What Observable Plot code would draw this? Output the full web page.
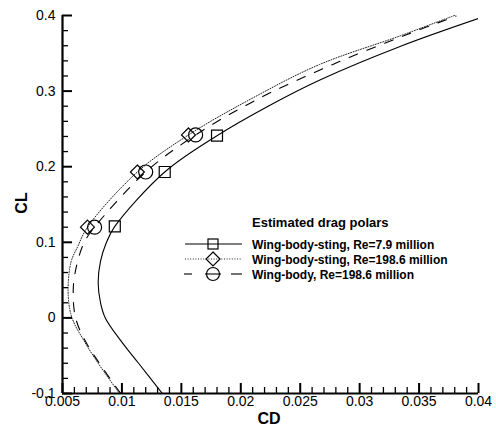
<!DOCTYPE html>
<html><head><meta charset="utf-8">
<script src="https://cdn.jsdelivr.net/npm/d3@7"></script>
<script src="https://cdn.jsdelivr.net/npm/@observablehq/plot@0.6"></script>
<style>
html,body{margin:0;padding:0;background:#fff;}
#chart{position:relative;width:496px;height:431px;}
</style></head><body><div id="chart"></div>
<script>
// Series names (legend)
const legendTitle = "Estimated drag polars";
const seriesNames = ["Wing-body-sting, Re=7.9 million", "Wing-body-sting, Re=198.6 million", "Wing-body, Re=198.6 million"];

// Curve 1: Wing-body-sting, Re=7.9 million (solid)
const s1CL = [-0.1, -0.06, -0.03, 0.0, 0.02, 0.047, 0.075, 0.1, 0.121, 0.193, 0.241, 0.28, 0.315, 0.359, 0.396];
const s1CD = [0.0134, 0.0114, 0.0099, 0.0086, 0.0082, 0.0080, 0.0082, 0.0087, 0.0094, 0.0136, 0.0180, 0.0223, 0.0267, 0.0334, 0.0400];
// Curve 2: Wing-body-sting, Re=198.6 million (dotted)
const s2CL = [-0.1, -0.06, -0.03, 0.0, 0.03, 0.073, 0.095, 0.12, 0.193, 0.242, 0.29, 0.335, 0.373, 0.402];
const s2CD = [0.0098, 0.0080, 0.0068, 0.0058, 0.00548, 0.0057, 0.0063, 0.0071, 0.0113, 0.0156, 0.0209, 0.0266, 0.0334, 0.0383];
// Curve 3: Wing-body, Re=198.6 million (dashed)
const s3CL = [-0.1, -0.06, -0.03, 0.0, 0.035, 0.063, 0.099, 0.12, 0.193, 0.242, 0.29, 0.335, 0.375, 0.399];
const s3CD = [0.0099, 0.0081, 0.0069, 0.0061, 0.0059, 0.0061, 0.0068, 0.0077, 0.0120, 0.0162, 0.0215, 0.0277, 0.0340, 0.0381];

// Marker points
const m1CL = [0.121, 0.193, 0.241];
const m1CD = [0.0094, 0.0136, 0.0180];
const m2CL = [0.12, 0.193, 0.242];
const m2CD = [0.0071, 0.0113, 0.0156];
const m3CL = [0.12, 0.193, 0.242];
const m3CD = [0.0077, 0.0120, 0.0162];

// Ticks
const xTicks = [0.005, 0.01, 0.015, 0.02, 0.025, 0.03, 0.035, 0.04];
const xTickLabels = ["0.005", "0.01", "0.015", "0.02", "0.025", "0.03", "0.035", "0.04"];
const yTicks = [-0.1, 0, 0.1, 0.2, 0.3, 0.4];
const yTickLabels = ["-0.1", "0", "0.1", "0.2", "0.3", "0.4"];
const xMinor = d3.range(5, 41).filter(i => i % 5 !== 0).map(i => i / 1000);
const yMinor = d3.range(-5, 21).filter(i => i % 5 !== 0).map(i => i / 50);

const W = 496, H = 431, mL = 62, mR = 18, mT = 15, mB = 38;
const xDom = [0.005, 0.04], yDom = [-0.1, 0.4];
// data units per pixel, used only to give the inward ticks a fixed pixel length
const xPerPx = (xDom[1] - xDom[0]) / (W - mL - mR);
const yPerPx = (yDom[1] - yDom[0]) / (H - mT - mB);

const rows = (cd, cl) => cd.map((x, i) => ({CD: x, CL: cl[i]}));

const plot = Plot.plot({
  width: W, height: H,
  marginLeft: mL, marginRight: mR, marginTop: mT, marginBottom: mB,
  style: {fontFamily: "'Liberation Sans', Arial, sans-serif", fontSize: "14px", background: "#fff"},
  x: {domain: xDom, label: null},
  y: {domain: yDom, label: null},
  marks: [
    Plot.line(rows(s1CD, s1CL), {x: "CD", y: "CL", curve: "catmull-rom", stroke: "#000", strokeWidth: 1.1, clip: true}),
    Plot.line(rows(s2CD, s2CL), {x: "CD", y: "CL", curve: "catmull-rom", stroke: "#222", strokeWidth: 1, strokeDasharray: "1,1.6", clip: true}),
    Plot.line(rows(s3CD, s3CL), {x: "CD", y: "CL", curve: "catmull-rom", stroke: "#000", strokeWidth: 1.1, strokeDasharray: "9,10", clip: true}),
    Plot.dot(rows(m1CD, m1CL), {x: "CD", y: "CL", symbol: "square", r: 6.2, stroke: "#000", fill: "none", strokeWidth: 1.2}),
    Plot.dot(rows(m2CD, m2CL), {x: "CD", y: "CL", symbol: "diamond2", r: 6.3, stroke: "#000", fill: "none", strokeWidth: 1.2}),
    Plot.dot(rows(m3CD, m3CL), {x: "CD", y: "CL", symbol: "circle", r: 7, stroke: "#000", fill: "none", strokeWidth: 1.2}),
    // axis lines
    Plot.ruleY([yDom[0]], {stroke: "#000", strokeWidth: 2.2}),
    Plot.ruleX([xDom[0]], {stroke: "#000", strokeWidth: 2.2}),
    // inward ticks
    Plot.ruleX(xTicks, {x: d => d, y1: yDom[0], y2: yDom[0] + 10 * yPerPx, stroke: "#000", strokeWidth: 2}),
    Plot.ruleX(xMinor, {x: d => d, y1: yDom[0], y2: yDom[0] + 6 * yPerPx, stroke: "#000", strokeWidth: 1.3}),
    Plot.ruleY(yTicks, {y: d => d, x1: xDom[0], x2: xDom[0] + 10 * xPerPx, stroke: "#000", strokeWidth: 2}),
    Plot.ruleY(yMinor, {y: d => d, x1: xDom[0], x2: xDom[0] + 6 * xPerPx, stroke: "#000", strokeWidth: 1.3}),
    // tick labels
    Plot.axisX(xTicks, {tickSize: 0, tickPadding: 3, tickFormat: d => xTickLabels[xTicks.indexOf(d)], label: null, fill: "#000"}),
    Plot.axisY(yTicks, {tickSize: 0, tickPadding: 7, tickFormat: d => yTickLabels[yTicks.indexOf(d)], label: null, fill: "#000"})
  ]
});
document.getElementById("chart").appendChild(plot);

// Axis titles and legend
const svg = d3.select(plot);
const ff = "'Liberation Sans', Arial, sans-serif";
svg.append("text").attr("transform", "translate(27,203) rotate(-90)").attr("text-anchor", "middle")
  .attr("font-family", ff).attr("font-weight", "bold").attr("font-size", 16).attr("fill", "#000").text("CL");
svg.append("text").attr("x", 269).attr("y", 424).attr("text-anchor", "middle")
  .attr("font-family", ff).attr("font-weight", "bold").attr("font-size", 16).attr("fill", "#000").text("CD");

const lg = svg.append("g").attr("text-anchor", "start");
lg.append("text").attr("x", 252).attr("y", 227).attr("text-anchor", "start").attr("font-family", ff).attr("font-weight", "bold")
  .attr("font-size", 13).attr("fill", "#000").text(legendTitle);
const ly = [244, 259, 274];
seriesNames.forEach((n, i) => {
  lg.append("text").attr("x", 252).attr("y", ly[i] + 4.5).attr("text-anchor", "start").attr("font-family", ff).attr("font-weight", "bold")
    .attr("font-size", 12).attr("fill", "#000").text(n);
});
// solid sample
lg.append("line").attr("x1", 185).attr("x2", 242).attr("y1", ly[0]).attr("y2", ly[0]).attr("stroke", "#555").attr("stroke-width", 1.6);
lg.append("rect").attr("x", 208).attr("y", ly[0] - 5).attr("width", 10).attr("height", 10).attr("fill", "none").attr("stroke", "#000").attr("stroke-width", 1.2);
// dotted sample
lg.append("line").attr("x1", 185).attr("x2", 242).attr("y1", ly[1]).attr("y2", ly[1]).attr("stroke", "#222").attr("stroke-dasharray", "1,1.6");
lg.append("path").attr("d", `M213,${ly[1]-7}L220,${ly[1]}L213,${ly[1]+7}L206,${ly[1]}Z`).attr("fill", "none").attr("stroke", "#000").attr("stroke-width", 1.2);
// dashed sample
[[184, 192], [205, 221], [231, 242]].forEach(([a, b]) => {
  lg.append("line").attr("x1", a).attr("x2", b).attr("y1", ly[2]).attr("y2", ly[2]).attr("stroke", "#000").attr("stroke-width", 1.1);
});
lg.append("circle").attr("cx", 213).attr("cy", ly[2]).attr("r", 6.5).attr("fill", "none").attr("stroke", "#000").attr("stroke-width", 1.2);
</script>
</body></html>
